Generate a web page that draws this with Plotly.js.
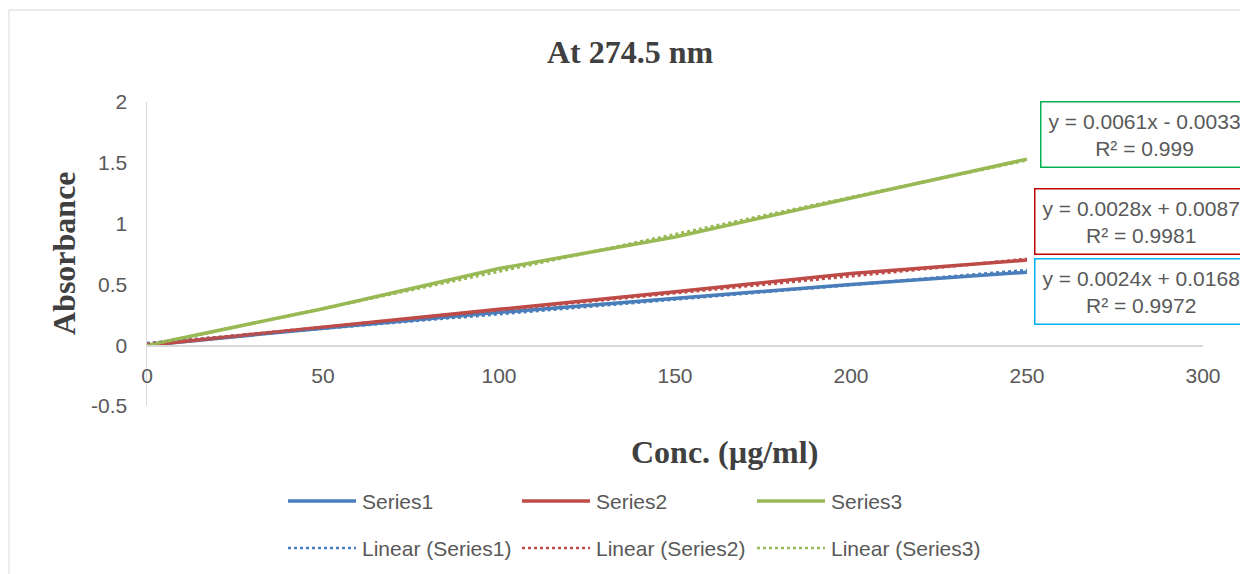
<!DOCTYPE html>
<html>
<head>
<meta charset="utf-8">
<script src="https://cdn.plot.ly/plotly-3.0.1.min.js"></script>
<style>html,body{margin:0;padding:0;background:#fff;}#chart{width:1240px;height:574px;}</style>
</head>
<body>
<div id="chart"></div>
<script>
// ---- data ----
const conc = [0, 50, 100, 150, 200, 250];
const series1 = [0, 0.14, 0.27, 0.385, 0.50, 0.60];
const series2 = [0, 0.15, 0.295, 0.44, 0.59, 0.70];
const series3 = [0, 0.30, 0.63, 0.89, 1.21, 1.53];
const seriesNames = ['Series1', 'Series2', 'Series3'];
const trendSlopes = [0.0024, 0.0028, 0.0061];
const trendIntercepts = [0.0168, 0.0087, -0.0033];
const equationLabels = ['y = 0.0024x + 0.0168<br>R² = 0.9972', 'y = 0.0028x + 0.0087<br>R² = 0.9981', 'y = 0.0061x - 0.0033<br>R² = 0.999'];
const xTicks = [0, 50, 100, 150, 200, 250, 300];
const yTicks = [-0.5, 0, 0.5, 1, 1.5, 2];

// ---- styling ----
const colors = ['#4a7ebb', '#be4b48', '#98b954'];
const boxColors = ['#00b0f0', '#c00000', '#00b050'];
const tickFont = {family: 'Liberation Sans, Arial, sans-serif', size: 21, color: '#595959'};
const serif = 'Liberation Serif, Times New Roman, serif';

// plot area in pixels
const L = 147, R = 1203, T = 102, B = 406;
const px = x => (x - L) / (R - L);
const py = y => (B - y) / (B - T);

const allSeries = [series1, series2, series3];
const traces = [];
allSeries.forEach((s, i) => {
  traces.push({x: conc, y: s, type: 'scatter', mode: 'lines', name: seriesNames[i],
    line: {color: colors[i], width: 3.5}, showlegend: false});
});
const tx = [conc[0], conc[conc.length - 1]];
allSeries.forEach((s, i) => {
  traces.push({x: tx, y: tx.map(v => trendSlopes[i] * v + trendIntercepts[i]), type: 'scatter', mode: 'lines',
    name: 'Linear (' + seriesNames[i] + ')', line: {color: colors[i], width: 3, dash: 'dot'}, showlegend: false});
});

const shapes = [
  {type: 'rect', xref: 'paper', yref: 'paper', x0: px(9), x1: px(1260), y0: py(600), y1: py(10),
    line: {color: '#d9d9d9', width: 1}, fillcolor: 'rgba(0,0,0,0)', layer: 'below'}
];
const annotations = [];
// legend
const legX = [288, 522, 757];
const legRows = [501, 548];
for (let i = 0; i < 3; i++) {
  shapes.push({type: 'line', xref: 'paper', yref: 'paper', x0: px(legX[i]), x1: px(legX[i] + 68),
    y0: py(legRows[0]), y1: py(legRows[0]), line: {color: colors[i], width: 3.5}});
  shapes.push({type: 'line', xref: 'paper', yref: 'paper', x0: px(legX[i]), x1: px(legX[i] + 68),
    y0: py(legRows[1]), y1: py(legRows[1]), line: {color: colors[i], width: 2.5, dash: 'dot'}});
  annotations.push({xref: 'paper', yref: 'paper', x: px(legX[i] + 72), y: py(legRows[0]), xanchor: 'left', yanchor: 'middle',
    text: seriesNames[i], showarrow: false, font: tickFont});
  annotations.push({xref: 'paper', yref: 'paper', x: px(legX[i] + 72), y: py(legRows[1]), xanchor: 'left', yanchor: 'middle',
    text: 'Linear (' + seriesNames[i] + ')', showarrow: false, font: tickFont});
}
// equation boxes
const boxLeft = [1034, 1034, 1040];
const boxTop = [258, 188, 101];
for (let i = 0; i < 3; i++) {
  annotations.push({xref: 'paper', yref: 'paper', x: px(boxLeft[i]), y: py(boxTop[i]), xanchor: 'left', yanchor: 'top',
    text: equationLabels[i], showarrow: false, align: 'center', font: tickFont,
    bordercolor: boxColors[i], borderwidth: 1.5, borderpad: 7, bgcolor: '#ffffff'});
}
// axis titles
annotations.push({xref: 'paper', yref: 'paper', x: px(724), y: py(452), xanchor: 'center', yanchor: 'middle',
  text: '<b>Conc. (µg/ml)</b>', showarrow: false, font: {family: serif, size: 32, color: '#404040'}});
annotations.push({xref: 'paper', yref: 'paper', x: px(64), y: py(253), xanchor: 'center', yanchor: 'middle', textangle: -90,
  text: '<b>Absorbance</b>', showarrow: false, font: {family: serif, size: 32, color: '#404040'}});

const layout = {
  width: 1240, height: 574,
  margin: {l: L, r: 1240 - R, t: T, b: 574 - B},
  paper_bgcolor: '#ffffff', plot_bgcolor: '#ffffff',
  title: {text: '<b>At 274.5 nm</b>', x: 630 / 1240, xanchor: 'center', y: 1 - 52 / 574, yanchor: 'middle',
    font: {family: serif, size: 32, color: '#404040'}},
  showlegend: false,
  xaxis: {range: [0, 300], tickvals: xTicks, ticktext: xTicks.map(String), showgrid: false, zeroline: false,
    showline: true, linecolor: '#d9d9d9', linewidth: 1.5, ticks: '', tickfont: tickFont,
    anchor: 'free', position: 0.2, ticklabelstandoff: 11},
  yaxis: {range: [-0.5, 2], tickvals: yTicks, ticktext: yTicks.map(String), showgrid: false, zeroline: false,
    showline: true, linecolor: '#d9d9d9', linewidth: 1.5, ticks: '', tickfont: tickFont, ticklabelstandoff: 14},
  shapes: shapes,
  annotations: annotations
};

Plotly.newPlot('chart', traces, layout, {displayModeBar: false, staticPlot: true});
</script>
</body>
</html>
